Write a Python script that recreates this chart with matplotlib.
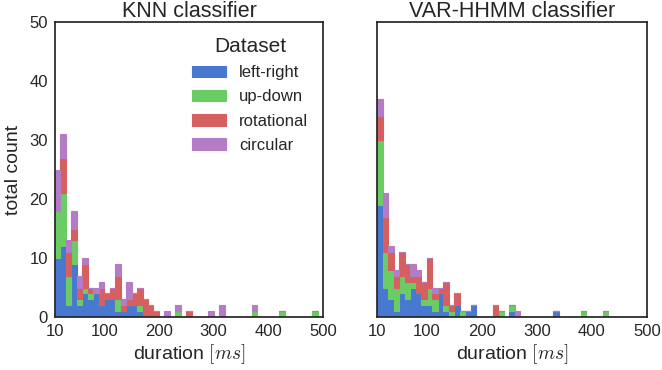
import numpy as np
import matplotlib
matplotlib.use("Agg")
import matplotlib.pyplot as plt

plt.rcParams['font.family'] = ['Liberation Sans', 'DejaVu Sans']
plt.rcParams['mathtext.fontset'] = 'cm'
plt.rcParams['text.color'] = '.15'
plt.rcParams['axes.labelcolor'] = '.15'
plt.rcParams['xtick.color'] = '.15'
plt.rcParams['ytick.color'] = '.15'

# 10 ms bins from 10 to 500 ms
edges = np.arange(10, 501, 10)
centers = (edges[:-1] + edges[1:]) / 2.0
nbins = len(centers)

datasets = ['left-right', 'up-down', 'rotational', 'circular']
colors = ['#4878CF', '#6ACC65', '#D65F5F', '#B47CC7']

def padded(vals):
    out = np.zeros(nbins)
    out[:len(vals)] = vals
    return out

# counts per bin, KNN classifier
knn_lr = padded([10, 12, 2, 9, 2, 4, 3, 4, 2, 3, 3, 1, 1, 2, 2, 1])
knn_ud = padded([8, 9, 5, 4, 1, 1, 1, 0, 0, 0, 0, 2, 0, 0, 0, 1, 0, 0, 0, 0,
                 0, 0, 1, 0, 0, 0, 0, 0, 0, 0, 0, 0, 0, 0, 0, 0, 1, 0, 0, 0,
                 0, 1, 0, 0, 0, 0, 0, 1])
knn_rot = padded([0, 6, 4, 2, 2, 4, 1, 0, 3, 1, 2, 4, 1, 1, 2, 3, 3, 2, 1, 0,
                  0, 0, 0, 0, 1])
knn_circ = padded([7, 4, 2, 3, 2, 1, 0, 1, 1, 0, 0, 2, 1, 3, 0, 0, 0, 0, 0, 0,
                   1, 0, 1, 0, 0, 0, 0, 0, 1, 0, 2, 0, 0, 0, 0, 0, 1])

# counts per bin, VAR-HHMM classifier
hmm_lr = padded([19, 5, 3, 1, 4, 3, 5, 4, 2, 2, 1, 4, 1, 0, 2, 0, 1, 2, 0, 0,
                 0, 0, 0, 0, 1, 0, 0, 0, 0, 0, 0, 0, 1])
hmm_ud = padded([11, 6, 5, 4, 3, 3, 1, 0, 1, 3, 2, 0, 1, 1, 0, 1, 0, 0, 0, 0,
                 0, 0, 1, 0, 1, 0, 0, 0, 0, 0, 0, 0, 0, 0, 0, 0, 0, 1, 0, 0,
                 0, 1])
hmm_rot = padded([4, 6, 3, 2, 4, 3, 1, 3, 3, 5, 1, 1, 4, 1, 2, 0, 0, 0, 0, 0,
                  0, 2])
hmm_circ = padded([3, 4, 1, 1, 0, 0, 2, 1, 0, 0, 1, 0, 0, 0, 0, 0, 0, 0, 0, 0,
                   0, 0, 0, 0, 0, 1])

panels = [("KNN classifier", [knn_lr, knn_ud, knn_rot, knn_circ]),
          ("VAR-HHMM classifier", [hmm_lr, hmm_ud, hmm_rot, hmm_circ])]

fig = plt.figure(figsize=(6.62, 3.70), dpi=100)
ax1 = fig.add_axes([55/662, 1 - 317/370, 268/662, 295/370])
ax2 = fig.add_axes([377/662, 1 - 317/370, 270/662, 295/370], sharey=ax1)

for ax, (title, counts) in zip([ax1, ax2], panels):
    n, b, patches = ax.hist([centers] * 4, bins=edges, weights=counts,
                            stacked=True, color=colors, label=datasets,
                            histtype='bar', rwidth=1.0)
    for group, c in zip(patches, colors):
        for p in group:
            p.set_edgecolor(c)
            p.set_linewidth(0.8)
    ax.set_title(title, fontsize=15.5, pad=0)
    ax.set_xlim(10, 500)
    ax.set_ylim(0, 50)
    ax.set_xticks([10, 100, 200, 300, 400, 500])
    ax.set_yticks([0, 10, 20, 30, 40, 50])
    ax.tick_params(labelsize=12, length=0, pad=5)
    ax.set_xlabel(r'duration $[ms]$', fontsize=14, labelpad=2)
    for s in ax.spines.values():
        s.set_color('.15')
        s.set_linewidth(1.25)
        s.set_zorder(3)

ax1.set_ylabel('total count', fontsize=14, labelpad=5)
plt.setp(ax2.get_yticklabels(), visible=False)

leg = ax1.legend(title='Dataset', loc='upper right', frameon=False,
                 fontsize=12, title_fontsize=15, labelspacing=0.55)

fig.savefig('out.png', dpi=100)
